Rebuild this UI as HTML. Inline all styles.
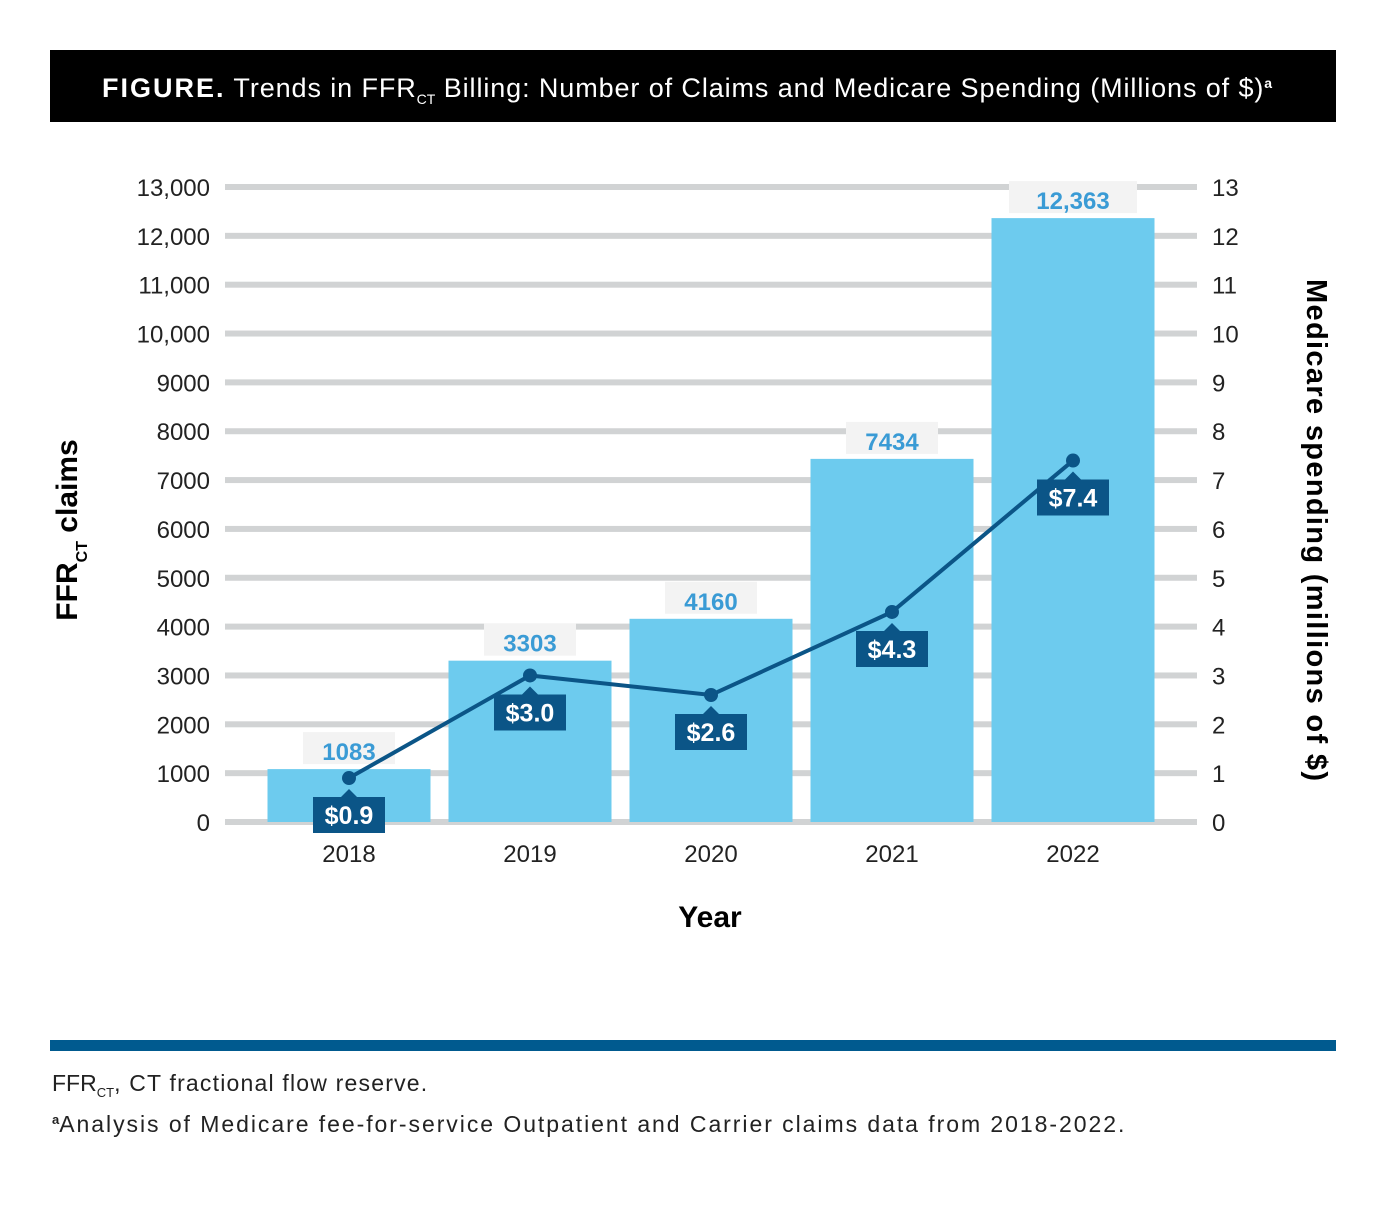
<!DOCTYPE html>
<html><head><meta charset="utf-8"><style>
body{margin:0;background:#fff;width:1386px;height:1200px;overflow:hidden;font-family:"Liberation Sans",sans-serif}
</style></head><body>
<svg width="1386" height="1200" xmlns="http://www.w3.org/2000/svg" id="chart">
<rect x="50" y="50" width="1286" height="72" fill="#000"/>
<text x="102" y="97" fill="#fff" font-size="27"><tspan font-weight="bold" letter-spacing="2">FIGURE.</tspan><tspan letter-spacing="0.9"> Trends in FFR</tspan><tspan font-size="14" dy="7">CT</tspan><tspan dy="-7" letter-spacing="0.9"> Billing: Number of Claims and Medicare Spending (Millions of $)</tspan><tspan font-size="14" dy="-9" font-weight="bold">a</tspan></text>
<g id="grid"></g><g id="bars"></g><g id="line"></g>
<text transform="translate(77,530) rotate(-90)" text-anchor="middle" font-size="30" font-weight="bold">FFR<tspan font-size="16" dy="10">CT</tspan><tspan dy="-10"> claims</tspan></text>
<text transform="translate(1307,530) rotate(90)" text-anchor="middle" font-size="29" font-weight="bold" textLength="502" lengthAdjust="spacing">Medicare spending (millions of $)</text>
<text x="710" y="927" text-anchor="middle" font-size="30" font-weight="bold">Year</text>
<rect x="50" y="1040" width="1286" height="11" fill="#005a8f"/>
<text x="52" y="1091" font-size="23" fill="#222">FFR<tspan font-size="13" dy="6">CT</tspan><tspan dy="-6" letter-spacing="1.2">, CT fractional flow reserve.</tspan></text>
<text x="52" y="1132" font-size="23" fill="#222"><tspan font-size="13" dy="-8" font-weight="bold">a</tspan><tspan dy="8" letter-spacing="1.95">Analysis of Medicare fee-for-service Outpatient and Carrier claims data from 2018-2022.</tspan></text>
</svg>
<script>
const years=["2018","2019","2020","2021","2022"];
const claims=[1083,3303,4160,7434,12363];
const spending=[0.9,3.0,2.6,4.3,7.4];
const leftTicks=[0,1000,2000,3000,4000,5000,6000,7000,8000,9000,10000,11000,12000,13000];
const rightTicks=[0,1,2,3,4,5,6,7,8,9,10,11,12,13];
const NS="http://www.w3.org/2000/svg";
const y0=822,y1=187,x0=225,x1=1197;
const yL=v=>y0-(v/13000)*(y0-y1);
const yR=v=>y0-(v/13)*(y0-y1);
const xC=i=>349+i*181;
function mk(t,a,p,txt){const e=document.createElementNS(NS,t);for(const k in a)e.setAttribute(k,a[k]);if(txt!==undefined)e.textContent=txt;p.appendChild(e);return e;}
const grid=document.getElementById('grid'),bars=document.getElementById('bars'),line=document.getElementById('line');
const fmt=v=>v>=10000?v.toLocaleString('en-US'):String(v);
leftTicks.forEach(v=>{
 const g=mk('rect',{x:x0,y:yL(v)-3,width:x1-x0,height:6,fill:'#d1d3d4'},grid);
 
 
 const t=mk('text',{x:210,y:yL(v)+9,'text-anchor':'end','font-size':24,fill:'#222'},grid,fmt(v));
 
 
});
rightTicks.forEach(v=>{
 const t=mk('text',{x:1212,y:yR(v)+9,'font-size':24,fill:'#222'},grid,String(v));
 
 
});
years.forEach((yr,i)=>{
 const b=mk('rect',{x:xC(i)-81.5,y:yL(claims[i]),width:163,height:y0-yL(claims[i]),fill:'#6dcbee'},bars);
 
 
 const s=fmt(claims[i]);
 const bg=mk('rect',{x:xC(i)-s.length*9-10,y:yL(claims[i])-37,width:s.length*18+20,height:32,fill:'#f3f3f3'},bars);
 
 
 const l=mk('text',{x:xC(i),y:yL(claims[i])-9,'text-anchor':'middle','font-size':24,'font-weight':'bold',fill:'#3a9bd5'},bars,s);
 
 
 const xl=mk('text',{x:xC(i),y:862,'text-anchor':'middle','font-size':24,fill:'#222'},bars,yr);
 
 
});
const pts=spending.map((v,i)=>xC(i)+','+yR(v)).join(' ');
const pl=mk('polyline',{points:pts,fill:'none',stroke:'#0b5587','stroke-width':4},line);


spending.forEach((v,i)=>{
 const x=xC(i),y=yR(v);
 const c=mk('circle',{cx:x,cy:y,r:7,fill:'#0b5587'},line);
 
 
 const bx=mk('path',{d:`M${x-36},${y+19} H${x-8} L${x},${y+11} L${x+8},${y+19} H${x+36} V${y+55} H${x-36} Z`,fill:'#0b5587'},line);
 
 
 const t=mk('text',{x:x,y:y+46,'text-anchor':'middle','font-size':25,'font-weight':'bold',fill:'#fff'},line,'$'+v.toFixed(1));
 
 
});
</script>
</body></html>
